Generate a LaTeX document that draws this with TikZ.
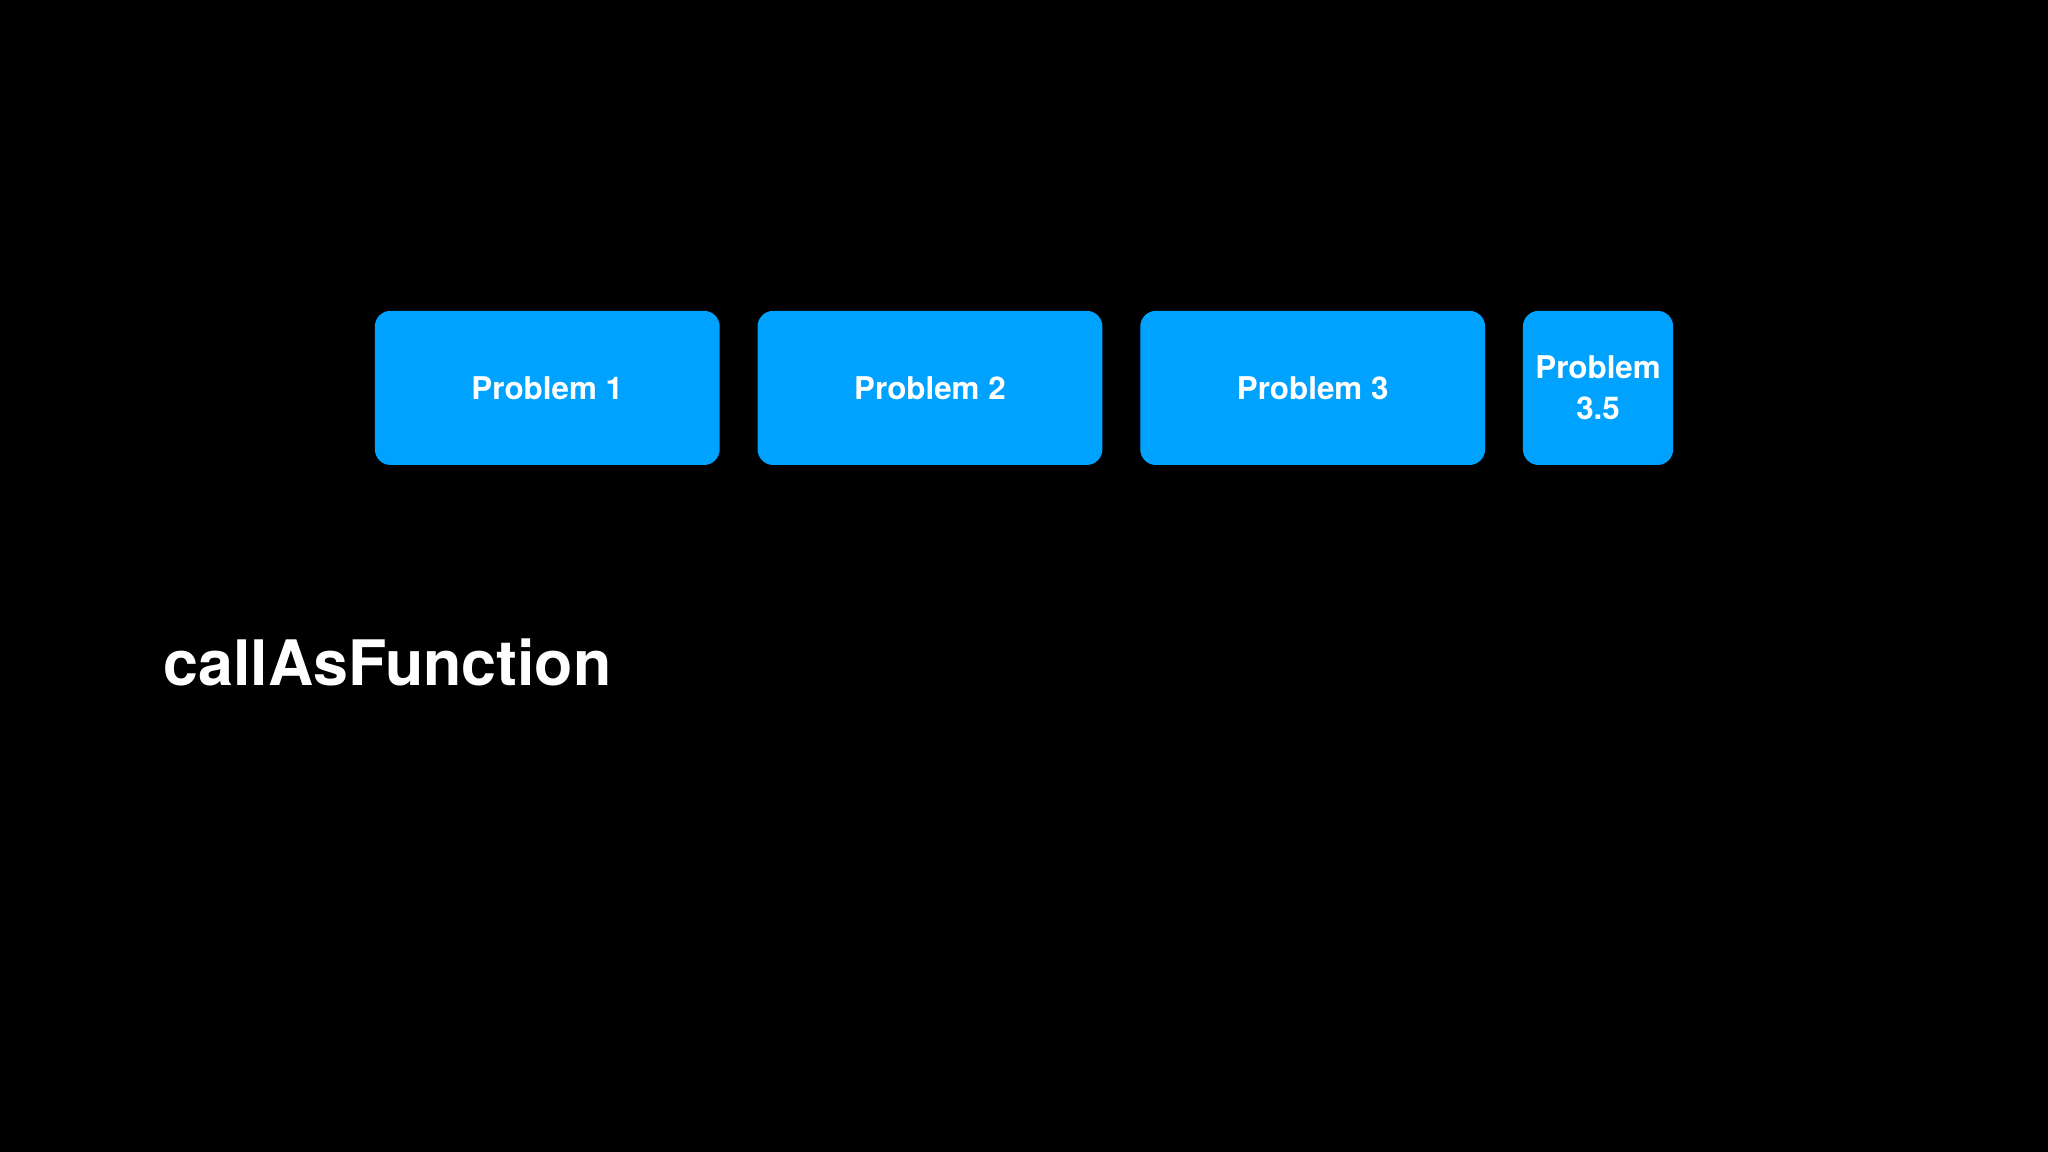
\documentclass[tikz,border=0pt]{standalone}
\usepackage{fontspec}
\setmainfont{TeX Gyre Heros}
\definecolor{boxblue}{HTML}{00A2FF}
\begin{document}
\begin{tikzpicture}[x=1pt,y=-1pt,
  pbox/.style={fill=boxblue,rounded corners=12pt,inner sep=0pt,text=white,
    font=\fontsize{24}{31}\selectfont\bfseries,align=center}]
\fill[black] (0,0) rectangle (1568,882);
\useasboundingbox (0,0) rectangle (1568,882);
\node[pbox,minimum width=264pt,minimum height=118pt] (p1) at (419,297) {Problem 1};
\node[pbox,minimum width=264pt,minimum height=118pt] (p2) at (712,297) {Problem 2};
\node[pbox,minimum width=264pt,minimum height=118pt] (p3) at (1005,297) {Problem 3};
\node[pbox,minimum width=115pt,minimum height=118pt] (p4) at (1223.5,297) {Problem\\3.5};
\node[anchor=base west,inner sep=0pt,text=white,font=\fontsize{48}{58}\selectfont\bfseries] (t) at (125,525) {callAsFunction};
\end{tikzpicture}
\end{document}
